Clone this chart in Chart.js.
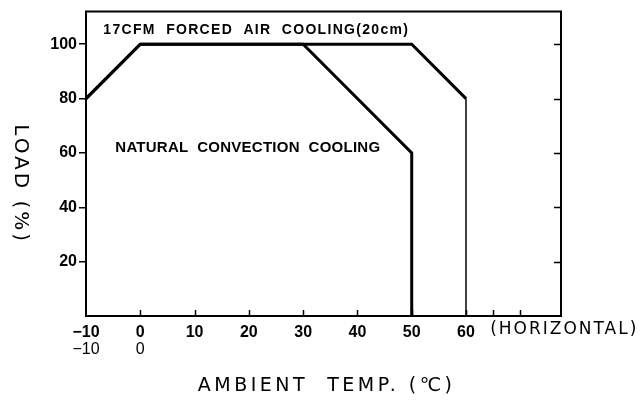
<!DOCTYPE html>
<html>
<head>
<meta charset="utf-8">
<script src="https://cdn.jsdelivr.net/npm/chart.js@4/dist/chart.umd.min.js"></script>
<style>
  html, body { margin: 0; padding: 0; background: #fff; }
  #wrap { width: 640px; height: 402px; }
</style>
</head>
<body>
<div id="wrap"><canvas id="c" width="640" height="402"></canvas></div>
<script>
// ---- data ----
const naturalTemps = [-10, 0, 30, 50, 50];
const naturalLoad  = [80, 100, 100, 60, 0];
const forcedTemps  = [-10, 0, 50, 60, 60];
const forcedLoad   = [80, 100, 100, 80, 0];
const xTickValues  = [-10, 0, 10, 20, 30, 40, 50, 60, 65, 70];
const xTickLabels  = ['\u221210', '0', '10', '20', '30', '40', '50', '60', '', ''];
const xSecondRow   = [[-10, '\u221210'], [0, '0']];
const yTickValues  = [20, 40, 60, 80, 100];
const yTickLabels  = ['20', '40', '60', '80', '100'];
const forcedLabel  = '17CFM  FORCED  AIR  COOLING(20cm)';
const naturalLabel = 'NATURAL  CONVECTION  COOLING';
const xAxisTitle   = 'AMBIENT  TEMP. (\u2103)';
const yAxisTitle   = 'LOAD (%)';
const horizLabel   = '(HORIZONTAL)';

const toPts = (xs, ys) => xs.map((x, i) => ({x: x, y: ys[i]}));

const extras = {
  id: 'extras',
  afterDraw(chart) {
    const ctx = chart.ctx;
    const xs = chart.scales.x, ys = chart.scales.y;
    const a = chart.chartArea;
    ctx.save();
    ctx.strokeStyle = '#000';
    ctx.fillStyle = '#000';
    // frame top and right
    ctx.lineWidth = 2;
    ctx.beginPath();
    ctx.moveTo(a.left - 1, a.top);
    ctx.lineTo(a.right, a.top);
    ctx.lineTo(a.right, a.bottom + 1);
    ctx.stroke();
    // inward ticks bottom
    ctx.lineWidth = 1.5;
    xTickValues.forEach(v => {
      if (v === -10) return;
      const px = Math.round(xs.getPixelForValue(v)) + 0.5;
      ctx.beginPath();
      ctx.moveTo(px, a.bottom);
      ctx.lineTo(px, a.bottom - 6);
      ctx.stroke();
    });
    // inward ticks right
    yTickValues.forEach(v => {
      const py = Math.round(ys.getPixelForValue(v)) + 0.5;
      ctx.beginPath();
      ctx.moveTo(a.right, py);
      ctx.lineTo(a.right - 7, py);
      ctx.stroke();
    });
    // second row of x labels
    ctx.font = '16px "Liberation Sans", Arial, sans-serif';
    ctx.textAlign = 'center';
    ctx.textBaseline = 'middle';
    xSecondRow.forEach(([v, t]) => {
      ctx.fillText(t, xs.getPixelForValue(v), a.bottom + 34);
    });
    // (HORIZONTAL)
    ctx.textAlign = 'left';
    ctx.font = '17px "DejaVu Sans", sans-serif';
    ctx.letterSpacing = '2px';
    ctx.fillText(horizLabel, xs.getPixelForValue(65) - 3, a.bottom + 14);
    // curve labels
    ctx.font = 'bold 14px "Liberation Sans", Arial, sans-serif';
    ctx.letterSpacing = '1.3px';
    ctx.fillText(forcedLabel, xs.getPixelForValue(-6.8), ys.getPixelForValue(105.3));
    ctx.font = 'bold 15px "Liberation Sans", Arial, sans-serif';
    ctx.letterSpacing = '0.25px';
    ctx.fillText(naturalLabel, xs.getPixelForValue(-4.6), ys.getPixelForValue(61.8));
    // x axis title
    ctx.font = '19px "DejaVu Sans", sans-serif';
    ctx.letterSpacing = '3.5px';
    ctx.textAlign = 'left';
    ctx.fillText(xAxisTitle, xs.getPixelForValue(10.6), 386);
    // y axis title rotated clockwise
    ctx.translate(20, ys.getPixelForValue(48.5));
    ctx.rotate(Math.PI / 2);
    ctx.font = '20px "DejaVu Sans", sans-serif';
    ctx.letterSpacing = '3px';
    ctx.textAlign = 'center';
    ctx.fillText(yAxisTitle, 0, 0);
    ctx.restore();
  }
};

new Chart(document.getElementById('c'), {
  type: 'line',
  data: {
    datasets: [
      {
        label: 'Natural convection cooling',
        data: toPts(naturalTemps, naturalLoad),
        borderColor: '#000',
        borderWidth: 3,
        pointRadius: 0,
        tension: 0,
        fill: false
      },
      {
        label: '17CFM forced air cooling',
        data: toPts(forcedTemps, forcedLoad),
        borderColor: '#000',
        borderWidth: 3,
        pointRadius: 0,
        tension: 0,
        fill: false,
        segment: {
          borderWidth: c => c.p1DataIndex === forcedTemps.length - 1 ? 1.5 : 3
        }
      }
    ]
  },
  options: {
    responsive: false,
    animation: false,
    devicePixelRatio: 1,
    layout: { padding: { top: 10, right: 79, left: 0, bottom: 0 } },
    plugins: { legend: { display: false }, tooltip: { enabled: false }, title: { display: false } },
    scales: {
      x: {
        type: 'linear',
        min: -10,
        max: 77.5,
        afterBuildTicks: s => { s.ticks = xTickValues.map(v => ({value: v})); },
        afterFit: s => { s.height = 86; },
        grid: { display: true, drawOnChartArea: false, drawTicks: false },
        border: { display: true, color: '#000', width: 2 },
        ticks: {
          autoSkip: false,
          maxRotation: 0,
          padding: 7,
          color: '#000',
          font: { family: '"Liberation Sans", Arial, sans-serif', size: 16, weight: 'bold' },
          callback: (v) => { const i = xTickValues.indexOf(v); return i >= 0 ? xTickLabels[i] : ''; }
        }
      },
      y: {
        type: 'linear',
        min: 0,
        max: 112,
        afterBuildTicks: s => { s.ticks = yTickValues.map(v => ({value: v})); },
        afterFit: s => { s.width = 86; },
        grid: { display: true, drawOnChartArea: false, drawTicks: true, tickLength: 7, color: '#000', lineWidth: 1.5 },
        border: { display: true, color: '#000', width: 2 },
        ticks: {
          padding: 2,
          color: '#000',
          font: { family: '"Liberation Sans", Arial, sans-serif', size: 16, weight: 'bold' },
          callback: (v) => { const i = yTickValues.indexOf(v); return i >= 0 ? yTickLabels[i] : ''; }
        }
      }
    }
  },
  plugins: [extras]
});
</script>
</body>
</html>
